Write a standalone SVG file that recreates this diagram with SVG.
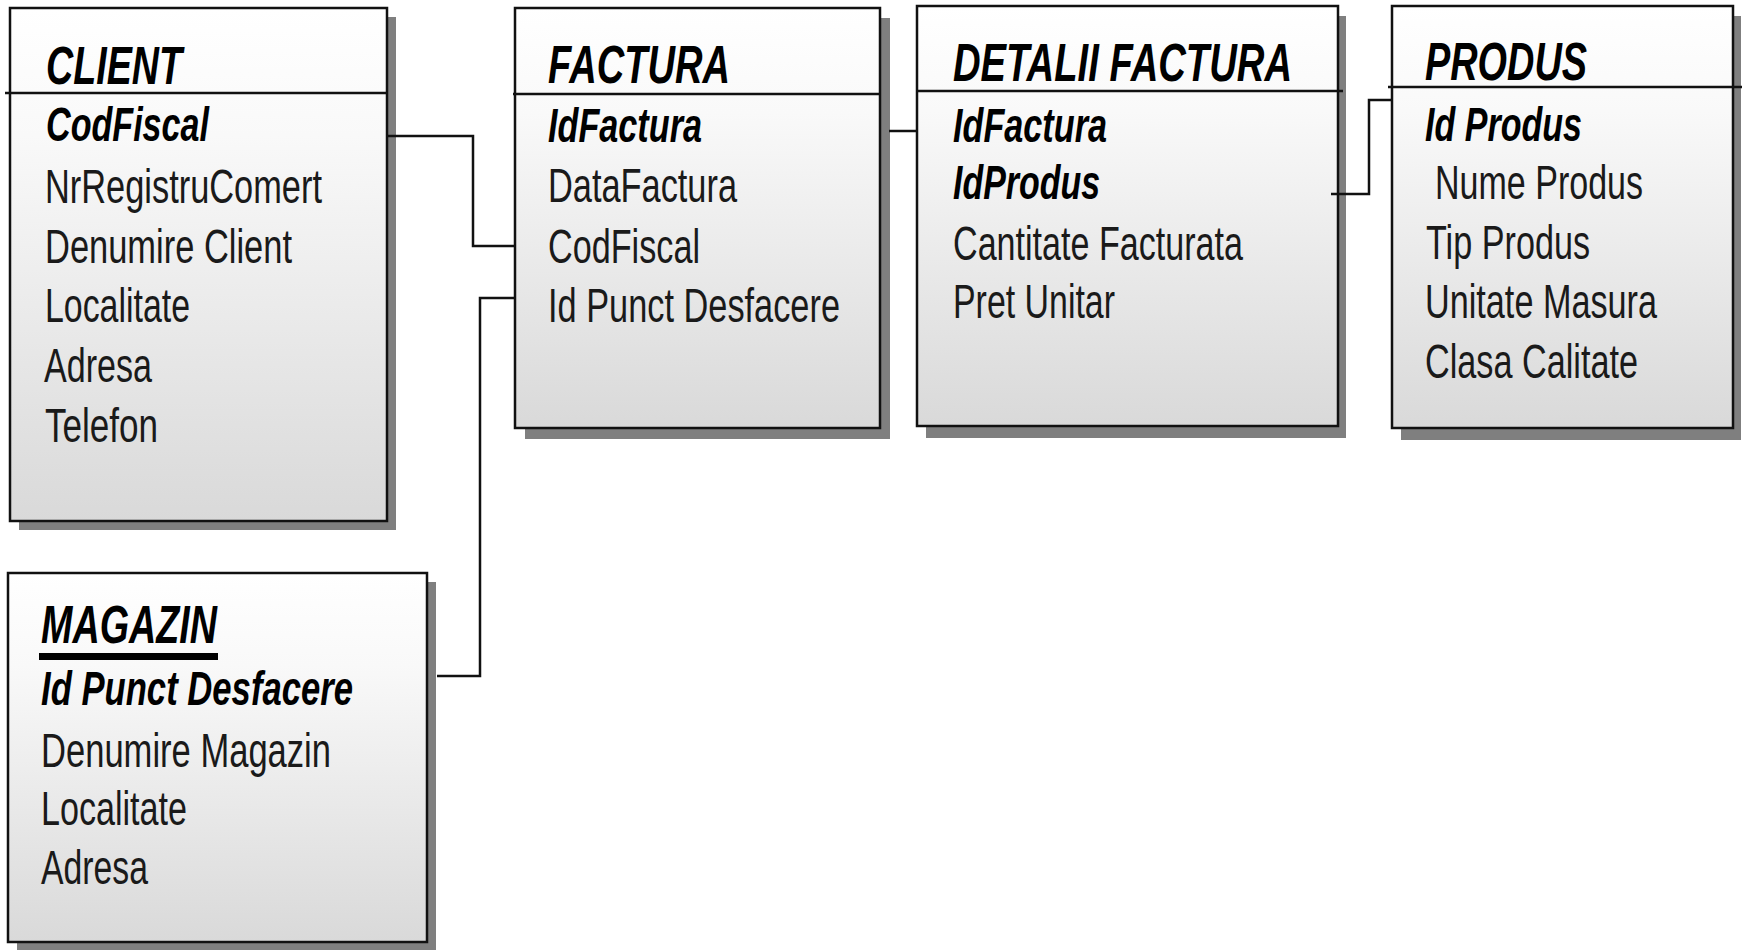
<svg xmlns="http://www.w3.org/2000/svg" width="1742" height="950" viewBox="0 0 1742 950">
<defs>
<linearGradient id="g" x1="0" y1="0" x2="0" y2="1">
<stop offset="0" stop-color="#ffffff"/>
<stop offset="0.25" stop-color="#f9f9f9"/>
<stop offset="1" stop-color="#d9d9d9"/>
</linearGradient>
<style>
.shadow{fill:#7f7f7f}
.box{fill:url(#g);stroke:#111;stroke-width:2.5}
.hdr{stroke:#111;stroke-width:2.5}
.title{font-family:"Liberation Sans Narrow","Liberation Sans",Arial,sans-serif;font-weight:bold;font-style:italic;font-size:54px;fill:#000}
.key{font-family:"Liberation Sans Narrow","Liberation Sans",Arial,sans-serif;font-weight:bold;font-style:italic;font-size:48px;fill:#000}
.attr{font-family:"Liberation Sans Narrow","Liberation Sans",Arial,sans-serif;font-size:48px;fill:#1a1a1a}
.conn{fill:none;stroke:#111;stroke-width:2.5}
</style>
</defs>
<rect width="1742" height="950" fill="#fff"/>
<g id="client">
<rect class="shadow" x="19" y="17" width="377" height="513"/>
<rect class="box" x="10" y="8" width="377" height="513"/>
<line class="hdr" x1="5" y1="93" x2="387" y2="93"/>
<text class="title" x="46" y="84" textLength="136" lengthAdjust="spacingAndGlyphs">CLIENT</text>
<text class="key" x="46" y="141" textLength="163" lengthAdjust="spacingAndGlyphs">CodFiscal</text>
<text class="attr" x="45" y="203" textLength="277" lengthAdjust="spacingAndGlyphs">NrRegistruComert</text>
<text class="attr" x="45" y="263" textLength="247" lengthAdjust="spacingAndGlyphs">Denumire Client</text>
<text class="attr" x="45" y="322" textLength="145" lengthAdjust="spacingAndGlyphs">Localitate</text>
<text class="attr" x="44" y="382" textLength="108" lengthAdjust="spacingAndGlyphs">Adresa</text>
<text class="attr" x="45" y="442" textLength="113" lengthAdjust="spacingAndGlyphs">Telefon</text>
</g>
<g id="factura">
<rect class="shadow" x="525" y="18" width="365" height="421"/>
<rect class="box" x="515" y="8" width="365" height="420"/>
<line class="hdr" x1="513" y1="94" x2="880" y2="94"/>
<text class="title" x="548" y="83" textLength="182" lengthAdjust="spacingAndGlyphs">FACTURA</text>
<text class="key" x="548" y="142" textLength="154" lengthAdjust="spacingAndGlyphs">IdFactura</text>
<text class="attr" x="548" y="202" textLength="189" lengthAdjust="spacingAndGlyphs">DataFactura</text>
<text class="attr" x="548" y="263" textLength="152" lengthAdjust="spacingAndGlyphs">CodFiscal</text>
<text class="attr" x="548" y="322" textLength="292" lengthAdjust="spacingAndGlyphs">Id Punct Desfacere</text>
</g>
<g id="detalii-factura">
<rect class="shadow" x="926" y="16" width="420" height="422"/>
<rect class="box" x="917" y="6" width="421" height="420"/>
<line class="hdr" x1="917" y1="91" x2="1343" y2="91"/>
<text class="title" x="953" y="81" textLength="339" lengthAdjust="spacingAndGlyphs">DETALII FACTURA</text>
<text class="key" x="953" y="142" textLength="154" lengthAdjust="spacingAndGlyphs">IdFactura</text>
<text class="key" x="953" y="199" textLength="147" lengthAdjust="spacingAndGlyphs">IdProdus</text>
<text class="attr" x="953" y="260" textLength="290" lengthAdjust="spacingAndGlyphs">Cantitate Facturata</text>
<text class="attr" x="953" y="318" textLength="162" lengthAdjust="spacingAndGlyphs">Pret Unitar</text>
</g>
<g id="produs">
<rect class="shadow" x="1401" y="16" width="340" height="424"/>
<rect class="box" x="1392" y="6" width="341" height="422"/>
<line class="hdr" x1="1388" y1="87" x2="1742" y2="87"/>
<text class="title" x="1425" y="80" textLength="162" lengthAdjust="spacingAndGlyphs">PRODUS</text>
<text class="key" x="1425" y="141" textLength="157" lengthAdjust="spacingAndGlyphs">Id Produs</text>
<text class="attr" x="1435" y="199" textLength="208" lengthAdjust="spacingAndGlyphs">Nume Produs</text>
<text class="attr" x="1426" y="259" textLength="164" lengthAdjust="spacingAndGlyphs">Tip Produs</text>
<text class="attr" x="1425" y="318" textLength="232" lengthAdjust="spacingAndGlyphs">Unitate Masura</text>
<text class="attr" x="1425" y="378" textLength="213" lengthAdjust="spacingAndGlyphs">Clasa Calitate</text>
</g>
<g id="magazin">
<rect class="shadow" x="17" y="582" width="419" height="368"/>
<rect class="box" x="8" y="573" width="419" height="369"/>
<text class="title" x="41" y="643" textLength="176" lengthAdjust="spacingAndGlyphs">MAGAZIN</text>
<rect x="39" y="653" width="179" height="7" fill="#000"/>
<text class="key" x="41" y="705" textLength="312" lengthAdjust="spacingAndGlyphs">Id Punct Desfacere</text>
<text class="attr" x="41" y="767" textLength="290" lengthAdjust="spacingAndGlyphs">Denumire Magazin</text>
<text class="attr" x="41" y="825" textLength="146" lengthAdjust="spacingAndGlyphs">Localitate</text>
<text class="attr" x="41" y="884" textLength="107" lengthAdjust="spacingAndGlyphs">Adresa</text>
</g>
<g id="connectors">
<path class="conn" d="M387,136 H473 V246 H515"/>
<path class="conn" d="M437,676 H480 V298 H515"/>
<path class="conn" d="M889,131 H917"/>
<path class="conn" d="M1331,194 H1369 V100 H1392"/>
</g>
</svg>
